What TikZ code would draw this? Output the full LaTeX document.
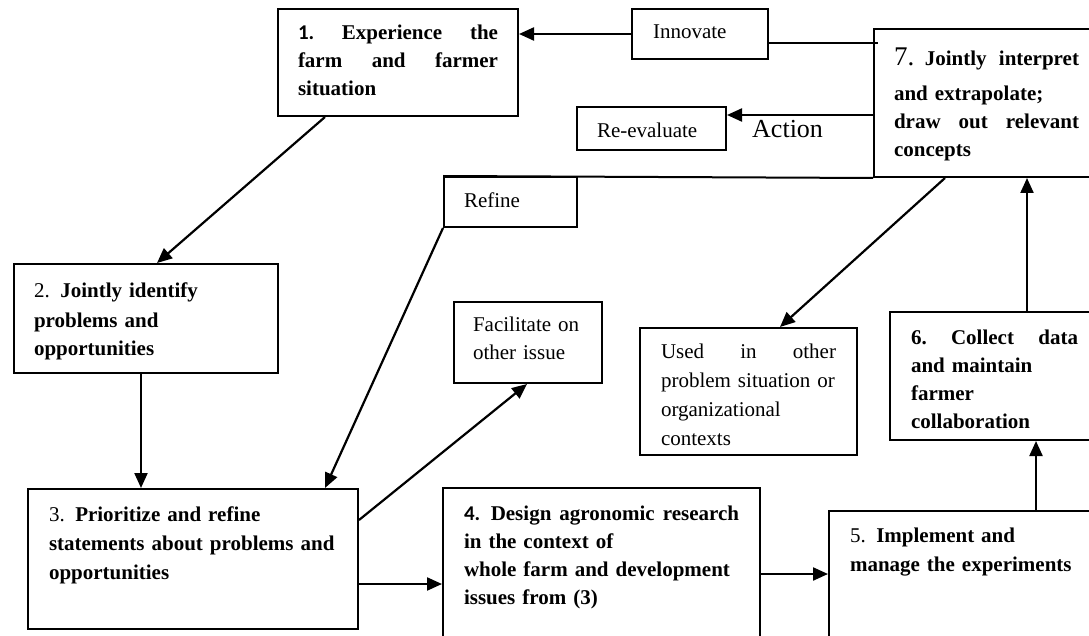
\documentclass[tikz,border=0pt]{standalone}
\usepackage{fontspec}
\setmainfont{Liberation Serif}
\newfontfamily\numfont{Carlito}
\usetikzlibrary{arrows.meta}

\begin{document}
\begin{tikzpicture}[x=1pt,y=-1pt,
    every node/.style={font=\fontsize{21}{28}\selectfont},
    box/.style={draw, line width=2pt, anchor=north west, align=left, inner ysep=0pt, inner xsep=21pt},
    bbox/.style={box, font=\fontsize{21}{28}\selectfont\bfseries},
    arr/.style={line width=2.2pt, -{Triangle[length=15pt,width=13pt]}},
    link/.style={line width=2pt}]
    \useasboundingbox (0,0) rectangle (1089,636);
    \clip (0,0) rectangle (1089,636);
    \fill[white] (0,0) rectangle (1089,636);
    % -------------------------
    % Top row
    % -------------------------
    \node[bbox, inner xsep=20pt, text width=200pt, text height=31pt, text depth=76pt] (exp) at (277,8)
        {{\numfont 1.}\hfill Experience\hfill the\\ farm\hfill and\hfill farmer\\ situation};
    \node[box, text width=94pt, text height=30pt, text depth=20pt] (innov) at (631,8) {Innovate};
    \node[box, inner xsep=20pt, text width=109pt, text height=31pt, text depth=12pt] (reeval) at (576,106) {Re-evaluate};
    \node[anchor=base west, inner sep=0pt, font=\fontsize{26}{30}\selectfont] (action) at (752,138) {Action};
    \node[box, inner xsep=20pt, text width=93pt, text height=31pt, text depth=19pt] (refine) at (443,176) {Refine};
    \node[bbox, inner xsep=20pt, text width=185pt, text height=37pt, text depth=111pt] (interp) at (873,28)
        {{\fontsize{27}{28}\selectfont\mdseries 7.} Jointly\hfill interpret\\[7pt] and extrapolate;\\ draw\hfill out\hfill relevant\\ concepts};

    % -------------------------
    % Middle row
    % -------------------------
    \node[bbox, inner xsep=20pt, text width=224pt, text height=34pt, text depth=75pt,
        font=\fontsize{21}{29}\selectfont\bfseries] (ident) at (13,263)
        {{\mdseries 2.} Jointly identify\\ problems and\\ opportunities};
    \node[box, inner xsep=19pt, text width=110pt, text height=29pt, text depth=52pt] (facil) at (453,301)
        {Facilitate on\\ other issue};
    \node[box, text width=175pt, text height=30pt, text depth=97pt,
        font=\fontsize{21}{29}\selectfont] (used) at (639,327)
        {Used\hfill in\hfill other\\ problem situation or\\ organizational\\ contexts};
    \node[bbox, text width=167pt, text height=32pt, text depth=96pt] (collect) at (889,311)
        {6.\hfill Collect\hfill data\\ and maintain\\ farmer\\ collaboration};

    % -------------------------
    % Bottom row
    % -------------------------
    \node[bbox, text width=288pt, text height=32pt, text depth=108pt,
        font=\fontsize{21}{29}\selectfont\bfseries] (prior) at (27,488)
        {{\mdseries 3.} Prioritize and refine\\ statements about problems and\\ opportunities};
    \node[bbox, text width=275pt, text height=32pt, text depth=131pt] (design) at (442,487)
        {{\numfont 4.} Design\hfill agronomic\hfill research\\ in the context of\\ whole farm and development\\ issues from (3)};
    \node[bbox, text width=228pt, text height=31pt, text depth=109pt,
        font=\fontsize{21}{29}\selectfont\bfseries] (impl) at (828,510)
        {{\mdseries 5.} Implement and\\ manage the experiments};

    % -------------------------
    % Connectors
    % -------------------------
    \draw[arr] (innov.west) -- (innov.west -| exp.east);
    \draw[line width=1.4pt] ([yshift=-9pt]innov.east) -- ([xshift=5pt,yshift=-9pt]innov.east -| interp.west);
    \draw[arr] ([yshift=-9pt]reeval.north -| interp.west) -- ([yshift=-9pt]reeval.north east);
    \draw[link] (interp.south west) -- (refine.north west);

    \draw[arr] ([xshift=48pt]exp.south west) -- ([xshift=144pt]ident.north west);
    \draw[arr] ([xshift=128pt]ident.south west) -- ([xshift=128pt]ident.south west |- prior.north);
    \draw[arr] (refine.south west) -- ([xshift=298pt]prior.north west);
    \draw[arr] ([yshift=-32pt]prior.north east) -- ([xshift=74pt]facil.south west);
    \draw[arr] ([yshift=-96pt]prior.north east) -- ([yshift=-96pt]prior.north east -| design.west);
    \draw[arr] ([yshift=-87pt]design.north east) -- ([yshift=-87pt]design.north east -| impl.west);
    \draw[arr] ([xshift=208pt]impl.north west) -- ([xshift=208pt]impl.north west |- collect.south);
    \draw[arr] ([xshift=138pt]collect.north west) -- ([xshift=138pt]collect.north west |- interp.south);
    \draw[arr] ([xshift=72pt]interp.south west) -- ([xshift=141pt]used.north west);

\end{tikzpicture}
\end{document}
